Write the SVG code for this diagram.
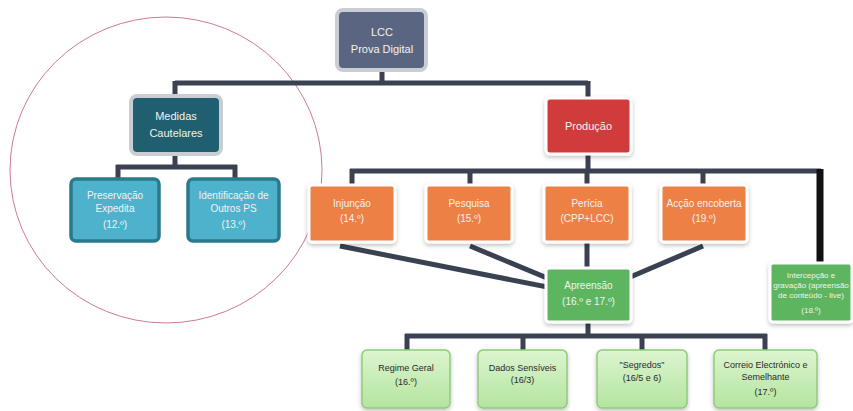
<svg xmlns="http://www.w3.org/2000/svg" width="853" height="411" viewBox="0 0 853 411">
<defs>
<filter id="sh" x="-20%" y="-20%" width="140%" height="150%">
<feDropShadow dx="0" dy="2" stdDeviation="2" flood-color="#000" flood-opacity="0.25"/>
</filter>
<linearGradient id="lg" x1="0" y1="0" x2="0" y2="1">
<stop offset="0" stop-color="#dcf5cf"/>
<stop offset="1" stop-color="#b4e4a0"/>
</linearGradient>
</defs>
<style>
text{font-family:"Liberation Sans",Arial,sans-serif;text-anchor:middle}
.con line,.con path{stroke:#3a4150;stroke-width:5;fill:none}
.gray{stroke:#c9cdd4;stroke-width:4}
.white{stroke:#ffffff;stroke-width:3;filter:url(#sh)}
.lb{fill:#4fb2cd;stroke:#2b7a8c;stroke-width:3.5}
.or{fill:#ec8044}
.gr{fill:#5db65e}
.lgr{fill:url(#lg);stroke:#8fcb7c;stroke-width:1.5;filter:url(#sh)}
.tw{fill:#f4f1ee;font-size:10px}
.tk{fill:#2a2a2a;font-size:9px}
.sm{font-size:8px}
</style>
<rect width="853" height="411" fill="#ffffff"/>
<ellipse cx="166" cy="170" rx="156" ry="153" fill="none" stroke="#cf7a8e" stroke-width="1"/>
<g class="con">
<path d="M382 72 V83 M175 83 H588 M175 81 V98 M588 81 V98"/>
<path d="M175 156 V167 M116 167 H237 M118 165 V178 M235 165 V178"/>
<path d="M588 154 V171 M350 171 H821 M352 169 V186 M470 169 V186 M587 169 V186 M703 169 V186"/>
<line x1="340" y1="246" x2="588" y2="295"/>
<line x1="470" y1="246" x2="588" y2="295"/>
<line x1="703" y1="246" x2="588" y2="295"/>
<line x1="587" y1="242" x2="587" y2="268"/>
<path d="M588 322 V336 M405 336 H767 M407 334 V350 M523 334 V350 M642 334 V350 M765 334 V350"/>
<line x1="820" y1="169" x2="820" y2="263" style="stroke:#111;stroke-width:7"/>
</g>
<g id="lcc">
<rect x="337" y="10" width="89" height="60" rx="6" fill="#5a6681" class="gray"/>
<text x="382" y="36" class="tw" style="font-size:11px">LCC</text>
<text x="382" y="53" class="tw" style="font-size:11px">Prova Digital</text>
</g>
<g id="medidas">
<rect x="131" y="96" width="90" height="58" rx="6" fill="#1f5f6f" class="gray"/>
<text x="176" y="120" class="tw" style="font-size:11px">Medidas</text>
<text x="176" y="137" class="tw" style="font-size:11px">Cautelares</text>
</g>
<g id="preservacao">
<rect x="71" y="179" width="88" height="62" rx="5" class="lb"/>
<text x="115" y="199" class="tw">Preservação</text>
<text x="115" y="212" class="tw">Expedita</text>
<text x="115" y="228" class="tw">(12.º)</text>
</g>
<g id="identificacao">
<rect x="188" y="179" width="91" height="62" rx="5" class="lb"/>
<text x="233.5" y="199" class="tw">Identificação de</text>
<text x="233.5" y="212" class="tw">Outros PS</text>
<text x="233.5" y="228" class="tw">(13.º)</text>
</g>
<g id="producao">
<rect x="546" y="98" width="85" height="56" rx="4" fill="#d23b3b" class="white"/>
<text x="588.5" y="130" class="tw" style="font-size:11px">Produção</text>
</g>
<g id="injuncao">
<rect x="309" y="185" width="86" height="57" rx="3" class="or white"/>
<text x="352" y="207" class="tw">Injunção</text>
<text x="352" y="222" class="tw">(14.º)</text>
</g>
<g id="pesquisa">
<rect x="426" y="185" width="86" height="57" rx="3" class="or white"/>
<text x="469" y="207" class="tw">Pesquisa</text>
<text x="469" y="222" class="tw">(15.º)</text>
</g>
<g id="pericia">
<rect x="544" y="185" width="86" height="57" rx="3" class="or white"/>
<text x="587" y="207" class="tw">Perícia</text>
<text x="587" y="222" class="tw">(CPP+LCC)</text>
</g>
<g id="accao">
<rect x="661" y="185" width="86" height="57" rx="3" class="or white"/>
<text x="704" y="207" class="tw">Acção encoberta</text>
<text x="704" y="222" class="tw">(19.º)</text>
</g>
<g id="apreensao">
<rect x="546" y="268" width="85" height="54" rx="3" class="gr white"/>
<text x="588.5" y="289" class="tw">Apreensão</text>
<text x="588.5" y="305" class="tw">(16.º e 17.º)</text>
</g>
<g id="intercepcao">
<rect x="770" y="263" width="82" height="59" rx="3" class="gr white"/>
<text x="811" y="278" class="tw sm">Intercepção e</text>
<text x="811" y="288" class="tw sm">gravação (apreensão</text>
<text x="811" y="298" class="tw sm">de conteúdo - live)</text>
<text x="811" y="313" class="tw sm">(18.º)</text>
</g>
<g id="regime">
<rect x="362" y="350" width="88" height="58" rx="5" class="lgr"/>
<text x="406" y="371" class="tk">Regime Geral</text>
<text x="406" y="385" class="tk">(16.º)</text>
</g>
<g id="dados">
<rect x="478" y="350" width="89" height="58" rx="5" class="lgr"/>
<text x="522.5" y="371" class="tk">Dados Sensíveis</text>
<text x="522.5" y="383" class="tk">(16/3)</text>
</g>
<g id="segredos">
<rect x="597" y="350" width="90" height="58" rx="5" class="lgr"/>
<text x="642" y="368" class="tk">"Segredos"</text>
<text x="642" y="381" class="tk">(16/5 e 6)</text>
</g>
<g id="correio">
<rect x="714" y="350" width="103" height="58" rx="5" class="lgr"/>
<text x="765.5" y="368" class="tk">Correio Electrónico e</text>
<text x="765.5" y="380" class="tk">Semelhante</text>
<text x="765.5" y="395" class="tk">(17.º)</text>
</g>
</svg>
